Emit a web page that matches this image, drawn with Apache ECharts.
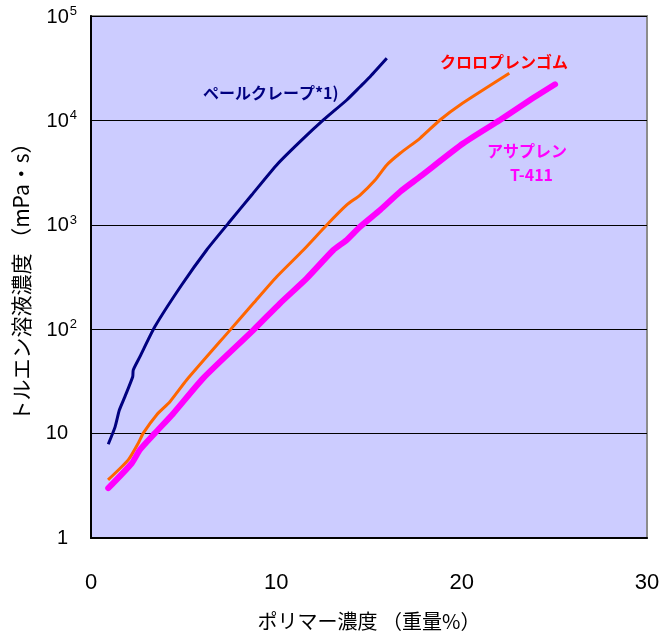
<!DOCTYPE html>
<html>
<head>
<meta charset="utf-8">
<script src="https://cdn.jsdelivr.net/npm/echarts@6/dist/echarts.min.js"></script>
<style>
body{margin:0;background:#fff;}
#main{width:660px;height:637px;}
</style>
</head>
<body>
<div id="main"></div>
<script>
// ポリマー濃度 (重量%) vs トルエン溶液粘度 (mPa・s)
var xTicks = [0, 10, 20, 30];
var yTicks = [1, 10, 100, 1000, 10000, 100000];

var paleX = [0.93, 1.30, 1.53, 1.83, 2.25, 2.28, 2.64, 3.45, 4.89, 6.24, 7.41, 8.67, 10.02, 11.28, 12.54, 13.8, 14.52, 15.06, 15.96];
var paleY = [7.9, 11.6, 16.8, 22.6, 35, 40.7, 54.6, 106, 265, 574, 1033, 1929, 3742, 6252, 10090, 15680, 21000, 26200, 39300];

var chloroX = [0.92, 2.01, 2.55, 2.82, 3.54, 4.26, 5.16, 7.5, 8.76, 10.02, 11.46, 12.72, 13.8, 14.52, 15.33, 15.96, 16.68, 17.75, 18.83, 19.91, 22.57];
var chloroY = [3.6, 5.6, 8.1, 10.1, 15.1, 20.2, 32.6, 98, 177, 318, 574, 996, 1549, 1929, 2686, 3742, 4842, 6740, 10090, 14060, 28250];

var asaX = [0.93, 2.2, 2.64, 3.45, 4.44, 6.06, 8.76, 10.2, 11.64, 13.08, 13.8, 14.52, 15.6, 16.68, 17.75, 20.09, 22.07, 23.69, 25.04];
var asaY = [3.0, 5.2, 7.0, 10.1, 15.6, 34, 98, 177, 307, 574, 715, 959, 1387, 2075, 2890, 6040, 10090, 15680, 22180];

function pairs(xs, ys) {
	var d = [];
	for (var i = 0; i < xs.length; i++) {
		d.push([xs[i], ys[i]]);
	}
	return d;
}

var jp = '"Noto Sans CJK JP", sans-serif';
var num = 'Arial, "Liberation Sans", sans-serif';

var myChart = echarts.init(document.getElementById('main'));
var option = {
	animation: false,
	backgroundColor: '#ffffff',
	grid: {
		left: 91, top: 16, right: 13, bottom: 99,
		containLabel: false,
		outerBoundsMode: 'none',
		show: true,
		backgroundColor: '#ccccff',
		borderColor: '#8c8c8c',
		borderWidth: 2
	},
	xAxis: {
		type: 'value',
		min: xTicks[0],
		max: xTicks[xTicks.length - 1],
		interval: 10,
		axisLine: {lineStyle: {color: '#000', width: 2}},
		axisTick: {show: false},
		splitLine: {show: false},
		axisLabel: {fontSize: 22, color: '#000', margin: 34, fontFamily: num},
		name: 'ポリマー濃度 （重量%）',
		nameLocation: 'middle',
		nameGap: 73,
		nameTextStyle: {fontSize: 20, color: '#000', fontFamily: jp}
	},
	yAxis: {
		type: 'log',
		logBase: 10,
		min: yTicks[0],
		max: yTicks[yTicks.length - 1],
		axisLine: {show: true, lineStyle: {color: '#000', width: 2}},
		axisTick: {show: false},
		splitLine: {show: true, lineStyle: {color: '#000', width: 1}},
		axisLabel: {
			color: '#000',
			margin: 14,
			fontFamily: num,
			formatter: function (v) {
				var e = Math.round(Math.log10(v));
				if (e == 0) return '{p|1}';
				if (e == 1) return '{p|10}';
				return '{b|10}{sup|' + e + '}';
			},
			rich: {
				p: {fontSize: 20, color: '#000', padding: [0, 9, 0, 0], fontFamily: num},
				b: {fontSize: 20, color: '#000', lineHeight: 22, verticalAlign: 'bottom', fontFamily: num},
				sup: {fontSize: 13, color: '#000', lineHeight: 22, verticalAlign: 'top', padding: [0, 0, 10, 1], fontFamily: num}
			}
		},
		name: 'トルエン溶液濃度 （mPa・s）',
		nameLocation: 'middle',
		nameGap: 59,
		nameTextStyle: {fontSize: 21, color: '#000', fontFamily: jp}
	},
	series: [
		{
			name: 'ペールクレープ*1)',
			type: 'line',
			data: pairs(paleX, paleY),
			smooth: 0.2,
			showSymbol: false,
			lineStyle: {color: '#000080', width: 3}
		},
		{
			name: 'クロロプレンゴム',
			type: 'line',
			data: pairs(chloroX, chloroY),
			smooth: 0.2,
			showSymbol: false,
			lineStyle: {color: '#ff6600', width: 3}
		},
		{
			name: 'アサプレン T-411',
			type: 'line',
			data: pairs(asaX, asaY),
			smooth: 0.2,
			showSymbol: false,
			lineStyle: {color: '#ff00ff', width: 6, cap: 'round'}
		}
	],
	graphic: [
		{type: 'text', left: 203, top: 85, style: {text: 'ペールクレープ*1)', fill: '#000080', font: 'bold 16px ' + jp}},
		{type: 'text', left: 440, top: 54, style: {text: 'クロロプレンゴム', fill: '#ff0000', font: 'bold 16px ' + jp}},
		{type: 'text', left: 487, top: 143, style: {text: 'アサプレン', fill: '#ff00ff', font: 'bold 16px ' + jp}},
		{type: 'text', left: 510, top: 167, style: {text: 'T-411', fill: '#ff00ff', font: 'bold 16px ' + jp}}
	]
};
myChart.setOption(option);
</script>
</body>
</html>
